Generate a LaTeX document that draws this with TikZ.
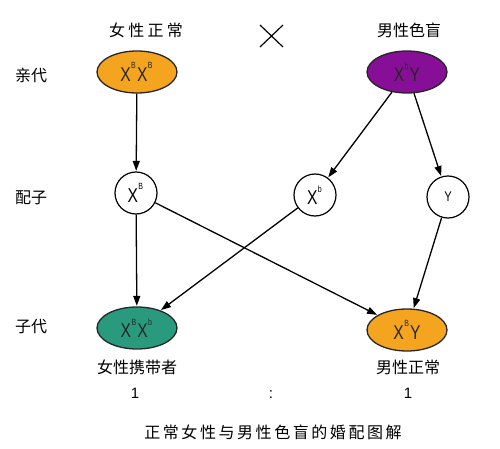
\documentclass[tikz,border=0pt]{standalone}
\usepackage{fontspec}
\setmainfont{Liberation Sans}
\newfontfamily\cjk{Noto Sans CJK SC}
\newfontfamily\cjkspaced[LetterSpace=20]{Noto Sans CJK SC}
\newfontfamily\cjkcap[LetterSpace=16]{Noto Sans CJK SC}
\usetikzlibrary{shapes.geometric,arrows.meta}
\definecolor{gorange}{HTML}{F5A420}
\definecolor{gpurple}{HTML}{870E96}
\definecolor{gteal}{HTML}{2A9A7E}
\newcommand{\gsup}[1]{\kern0.5pt\raisebox{12.5pt}{\fontsize{9}{9}\selectfont #1}\kern1.5pt}
\newcommand{\geno}[1]{\scalebox{0.78}[1]{\fontsize{20}{20}\selectfont #1}}
\tikzset{
  parent/.style={ellipse, draw=black!85, line width=1.3pt, minimum width=80pt, minimum height=42pt, inner sep=0pt, text=black!85},
  gamete/.style={circle, draw=black, line width=1.2pt, minimum size=42pt, inner sep=0pt, fill=white},
  lbl/.style={font=\cjk\fontsize{16}{16}\selectfont, inner sep=0pt},
  num/.style={font=\fontsize{15}{15}\selectfont, inner sep=0pt},
  arr/.style={line width=1.3pt, -{Triangle[length=10pt,width=7pt]}, shorten >=0.5pt},
}
\begin{document}
\begin{tikzpicture}[x=1pt,y=-1pt]
\useasboundingbox (0,0) rectangle (500,449);
% headings
\node[lbl] (hf) at (146,30) {\cjkspaced 女性正常};
\node[lbl] (hm) at (409,30) {男性色盲};
\coordinate (c1) at (260,25); \coordinate (c2) at (283,47);
\coordinate (c3) at (283,25); \coordinate (c4) at (260,47);
\draw[line width=1.2pt] (c1) -- (c2) (c3) -- (c4);
% row labels
\node[lbl] (lp) at (31,75) {亲代};
\node[lbl] (lg) at (31,198) {配子};
\node[lbl] (lc) at (31,327) {子代};
% parents
\node[parent, fill=gorange] (fp) at (137,72) {\geno{X\gsup{B}X\gsup{B}}};
\node[parent, fill=gpurple] (mp) at (407,72) {\geno{X\gsup{b}Y}};
% gametes
\node[gamete] (gB) at (136,193) {\geno{X\gsup{B}}};
\node[gamete] (gb) at (315,195) {\geno{X\gsup{b}}};
\node[gamete] (gY) at (448,197) {\scalebox{0.8}[1]{\fontsize{14}{14}\selectfont Y}};
% children
\node[parent, fill=gteal] (cf) at (137,328) {\geno{X\gsup{B}X\gsup{b}}};
\node[parent, fill=gorange] (cm) at (407,330) {\geno{X\gsup{B}Y}};
% arrows
\draw[arr] (fp) -- (gB);
\draw[arr] (mp) -- (gb);
\draw[arr] (mp) -- (gY);
\draw[arr] (gB) -- (cf);
\draw[arr] (gB) -- (cm);
\draw[arr] (gb) -- (cf);
\draw[arr] (gY) -- (cm);
% labels under children
\node[lbl] (tf) at (137,367) {女性携带者};
\node[lbl] (tm) at (408,367) {男性正常};
\node[num] (n1) at (135,393) {1};
\node[num] (nc) at (271,395) {:};
\node[num] (n2) at (408,393) {1};
\node[lbl] (cap) at (273,432) {\cjkcap 正常女性与男性色盲的婚配图解};
\end{tikzpicture}
\end{document}
